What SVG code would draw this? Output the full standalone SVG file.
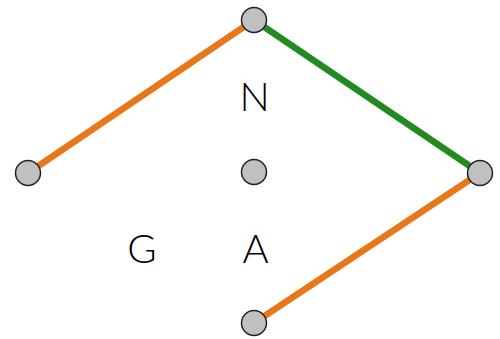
<svg xmlns="http://www.w3.org/2000/svg" width="500" height="339" viewBox="0 0 500 339">
<style>
.n{fill:#c0c0c0;stroke:#222;stroke-width:1.5}
.e{stroke-width:6.5;fill:none}
.o{stroke:#e8771a}
.g{stroke:#218b21}
.t{font-family:"Lato","Liberation Sans",sans-serif;font-weight:300;font-size:40px;text-anchor:middle;fill:#000}
</style>
<rect width="500" height="339" fill="#fff"/>
<g id="edges">
<line class="e o" x1="28" y1="173" x2="254" y2="20"/>
<line class="e g" x1="254" y1="20" x2="480" y2="173"/>
<line class="e o" x1="480" y1="173" x2="254" y2="323"/>
</g>
<g id="node-top"><circle class="n" cx="254" cy="20" r="12.5"/></g>
<g id="node-left"><circle class="n" cx="28" cy="173" r="12.5"/></g>
<g id="node-mid"><circle class="n" cx="254" cy="172" r="12.5"/></g>
<g id="node-right"><circle class="n" cx="480" cy="173" r="12.5"/></g>
<g id="node-bottom"><circle class="n" cx="254" cy="323" r="12.5"/></g>
<g id="labels">
<text class="t" x="254.5" y="111">N</text>
<text class="t" x="142" y="263">G</text>
<text class="t" x="255.5" y="263">A</text>
</g>
</svg>
